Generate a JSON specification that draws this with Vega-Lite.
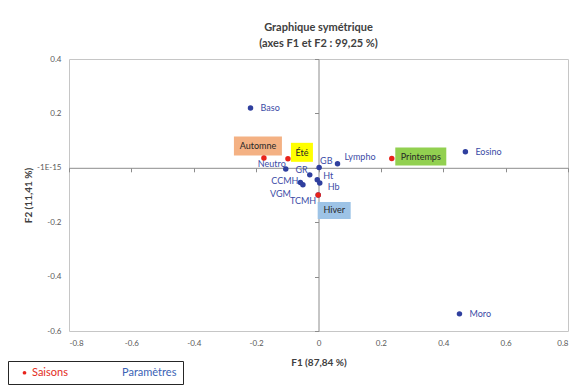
{
  "$schema": "https://vega.github.io/schema/vega-lite/v6.json",
  "width": 499,
  "height": 272,
  "autosize": {"type": "none"},
  "padding": {"left": 69, "top": 59, "right": 19, "bottom": 58},
  "background": "white",
  "title": {
    "text": ["Graphique symétrique", "(axes F1 et F2 : 99,25 %)"],
    "fontSize": 11,
    "fontWeight": "bold",
    "color": "#404040",
    "font": "Lato",
    "lineHeight": 16,
    "offset": 6,
    "anchor": "middle"
  },
  "config": {
    "view": {"stroke": "#c6c6c6", "strokeWidth": 1},
    "font": "Lato",
    "text": {"font": "Lato"}
  },
  "data": {
    "values": [
      {"name": "Baso", "type": "Paramètres", "F1": -0.218, "F2": 0.22},
      {"name": "Eosino", "type": "Paramètres", "F1": 0.471, "F2": 0.059},
      {"name": "Moro", "type": "Paramètres", "F1": 0.452, "F2": -0.537},
      {"name": "Lympho", "type": "Paramètres", "F1": 0.061, "F2": 0.015},
      {"name": "GB", "type": "Paramètres", "F1": 0.002, "F2": 0.001},
      {"name": "GR", "type": "Paramètres", "F1": -0.028, "F2": -0.026},
      {"name": "Neutro", "type": "Paramètres", "F1": -0.105, "F2": -0.004},
      {"name": "Ht", "type": "Paramètres", "F1": -0.004, "F2": -0.044},
      {"name": "Hb", "type": "Paramètres", "F1": 0.004, "F2": -0.056},
      {"name": "CCMH", "type": "Paramètres", "F1": -0.058, "F2": -0.054},
      {"name": "VGM", "type": "Paramètres", "F1": -0.05, "F2": -0.062},
      {"name": "TCMH", "type": "Paramètres", "F1": -0.001, "F2": -0.1},
      {"name": "Automne", "type": "Saisons", "F1": -0.175, "F2": 0.036},
      {"name": "Été", "type": "Saisons", "F1": -0.098, "F2": 0.033},
      {"name": "Printemps", "type": "Saisons", "F1": 0.235, "F2": 0.034},
      {"name": "Hiver", "type": "Saisons", "F1": -0.001, "F2": -0.1}
    ]
  },
  "layer": [
    {
      "encoding": {
        "x": {
          "field": "F1", "type": "quantitative",
          "scale": {"domain": [-0.8, 0.8], "nice": false, "zero": false},
          "axis": {
            "orient": "bottom",
            "values": [-0.8, -0.6, -0.4, -0.2, 0, 0.2, 0.4, 0.6, 0.8],
            "labelExpr": "datum.value === 0 ? '0' : (datum.value < 0 ? '-' : '') + format(abs(datum.value), '.1f')",
            "domain": false, "ticks": false, "tickSize": 0, "grid": false,
            "labelFontSize": 8, "labelColor": "#595959", "labelPadding": 8,
            "title": "F1 (87,84 %)", "titleFontSize": 10, "titleFontWeight": "bold",
            "titleColor": "#404040", "titlePadding": 10
          }
        },
        "y": {
          "field": "F2", "type": "quantitative",
          "scale": {"domain": [-0.6, 0.4], "nice": false, "zero": false},
          "axis": {
            "orient": "left",
            "values": [-0.6, -0.4, -0.2, 0, 0.2, 0.4],
            "labelExpr": "datum.value === 0 ? '-1E-15' : (datum.value < 0 ? '-' : '') + format(abs(datum.value), '.1f')",
            "domain": false, "ticks": false, "tickSize": 0, "grid": false,
            "labelFontSize": 8, "labelColor": "#595959", "labelPadding": 8,
            "title": "F2 (11,41 %)", "titleFontSize": 10, "titleFontWeight": "bold",
            "titleColor": "#404040", "titlePadding": 3
          }
        }
      },
      "layer": [
        {
          "transform": [{"filter": "datum.type === 'Saisons'"}],
          "mark": {"type": "point", "filled": true, "size": 4, "opacity": 1, "strokeWidth": 0},
          "encoding": {
            "shape": {
              "field": "name", "type": "nominal",
              "scale": {
                "domain": ["Automne", "Été", "Printemps", "Hiver"],
                "range": ["M-30,-21.5H18V-2.5H-30Z", "M3,-16H25V3H3Z", "M3.5,-11H54.5V7H3.5Z", "M-0.5,7H32.5V24H-0.5Z"]
              },
              "legend": null
            },
            "fill": {
              "field": "name", "type": "nominal",
              "scale": {
                "domain": ["Automne", "Été", "Printemps", "Hiver"],
                "range": ["#f4b183", "#ffff00", "#92d050", "#9dc3e6"]
              },
              "legend": null
            }
          }
        },
        {
          "transform": [{"filter": "datum.name === 'Automne'"}],
          "mark": {"type": "text", "align": "center", "baseline": "middle", "dx": -6, "dy": -12, "fontSize": 9, "color": "#262626"},
          "encoding": {"text": {"field": "name"}}
        },
        {
          "transform": [{"filter": "datum.name === 'Été'"}],
          "mark": {"type": "text", "align": "center", "baseline": "middle", "dx": 14, "dy": -6, "fontSize": 9, "color": "#262626"},
          "encoding": {"text": {"field": "name"}}
        },
        {
          "transform": [{"filter": "datum.name === 'Printemps'"}],
          "mark": {"type": "text", "align": "center", "baseline": "middle", "dx": 29, "dy": -2, "fontSize": 9, "color": "#262626"},
          "encoding": {"text": {"field": "name"}}
        },
        {
          "transform": [{"filter": "datum.name === 'Hiver'"}],
          "mark": {"type": "text", "align": "center", "baseline": "middle", "dx": 16, "dy": 15, "fontSize": 9, "color": "#262626"},
          "encoding": {"text": {"field": "name"}}
        },
        {
          "transform": [{"filter": {"field": "name", "oneOf": ["Baso", "Eosino", "Moro"]}}],
          "mark": {"type": "text", "align": "left", "baseline": "middle", "dx": 10, "dy": 0, "fontSize": 9, "color": "#3b4ba6"},
          "encoding": {"text": {"field": "name"}}
        },
        {
          "transform": [{"filter": "datum.name === 'Lympho'"}],
          "mark": {"type": "text", "align": "left", "baseline": "middle", "dx": 7, "dy": -7, "fontSize": 9, "color": "#3b4ba6"},
          "encoding": {"text": {"field": "name"}}
        },
        {
          "transform": [{"filter": "datum.name === 'GB'"}],
          "mark": {"type": "text", "align": "left", "baseline": "middle", "dx": 1, "dy": -7, "fontSize": 9, "color": "#3b4ba6"},
          "encoding": {"text": {"field": "name"}}
        },
        {
          "transform": [{"filter": "datum.name === 'GR'"}],
          "mark": {"type": "text", "align": "right", "baseline": "middle", "dx": -2, "dy": -5, "fontSize": 9, "color": "#3b4ba6"},
          "encoding": {"text": {"field": "name"}}
        },
        {
          "transform": [{"filter": "datum.name === 'Neutro'"}],
          "mark": {"type": "text", "align": "right", "baseline": "middle", "dx": 0, "dy": -5, "fontSize": 9, "color": "#3b4ba6"},
          "encoding": {"text": {"field": "name"}}
        },
        {
          "transform": [{"filter": "datum.name === 'Ht'"}],
          "mark": {"type": "text", "align": "left", "baseline": "middle", "dx": 6, "dy": -4, "fontSize": 9, "color": "#3b4ba6"},
          "encoding": {"text": {"field": "name"}}
        },
        {
          "transform": [{"filter": "datum.name === 'Hb'"}],
          "mark": {"type": "text", "align": "left", "baseline": "middle", "dx": 8, "dy": 4, "fontSize": 9, "color": "#3b4ba6"},
          "encoding": {"text": {"field": "name"}}
        },
        {
          "transform": [{"filter": "datum.name === 'CCMH'"}],
          "mark": {"type": "text", "align": "right", "baseline": "middle", "dx": -2, "dy": -1, "fontSize": 9, "color": "#3b4ba6"},
          "encoding": {"text": {"field": "name"}}
        },
        {
          "transform": [{"filter": "datum.name === 'VGM'"}],
          "mark": {"type": "text", "align": "right", "baseline": "middle", "dx": -12, "dy": 9, "fontSize": 9, "color": "#3b4ba6"},
          "encoding": {"text": {"field": "name"}}
        },
        {
          "transform": [{"filter": "datum.name === 'TCMH'"}],
          "mark": {"type": "text", "align": "right", "baseline": "middle", "dx": -2, "dy": 6, "fontSize": 9, "color": "#3b4ba6"},
          "encoding": {"text": {"field": "name"}}
        }
      ]
    },
    {
      "mark": {"type": "point", "filled": true, "size": 30, "opacity": 1},
      "encoding": {
        "x": {
          "field": "F1", "type": "quantitative",
          "scale": {"domain": [-0.8, 0.8], "nice": false, "zero": false},
          "axis": {
            "orient": "bottom", "offset": -163.2,
            "values": [-0.8, -0.6, -0.4, -0.2, 0, 0.2, 0.4, 0.6, 0.8],
            "labels": false, "title": null, "grid": false,
            "domain": true, "domainColor": "#8c8c8c", "domainWidth": 1,
            "ticks": true, "tickColor": "#8c8c8c", "tickSize": 4, "tickWidth": 1
          }
        },
        "y": {
          "field": "F2", "type": "quantitative",
          "scale": {"domain": [-0.6, 0.4], "nice": false, "zero": false},
          "axis": {
            "orient": "left", "offset": -249.5,
            "values": [-0.6, -0.4, -0.2, 0, 0.2, 0.4],
            "labels": false, "title": null, "grid": false,
            "domain": true, "domainColor": "#8c8c8c", "domainWidth": 1,
            "ticks": true, "tickColor": "#8c8c8c", "tickSize": 4, "tickWidth": 1
          }
        },
        "color": {
          "field": "type", "type": "nominal",
          "scale": {"domain": ["Saisons", "Paramètres"], "range": ["#e8231b", "#2f3f9e"]},
          "legend": {
            "title": null,
            "orient": "none",
            "legendX": -61,
            "legendY": 302,
            "direction": "horizontal",
            "strokeColor": "#262626",
            "fillColor": "white",
            "padding": 6,
            "symbolType": "circle",
            "symbolSize": 14,
            "symbolOffset": 5,
            "labelFontSize": 11,
            "labelFont": "Lato",
            "labelOffset": 2,
            "columnPadding": 36,
            "labelColor": {"expr": "datum.value === 'Saisons' ? '#e32b22' : '#3a62b5'"},
            "symbolOpacity": {"expr": "datum.value === 'Saisons' ? 1 : 0"}
          }
        }
      }
    }
  ],
  "resolve": {"axis": {"x": "independent", "y": "independent"}}
}
